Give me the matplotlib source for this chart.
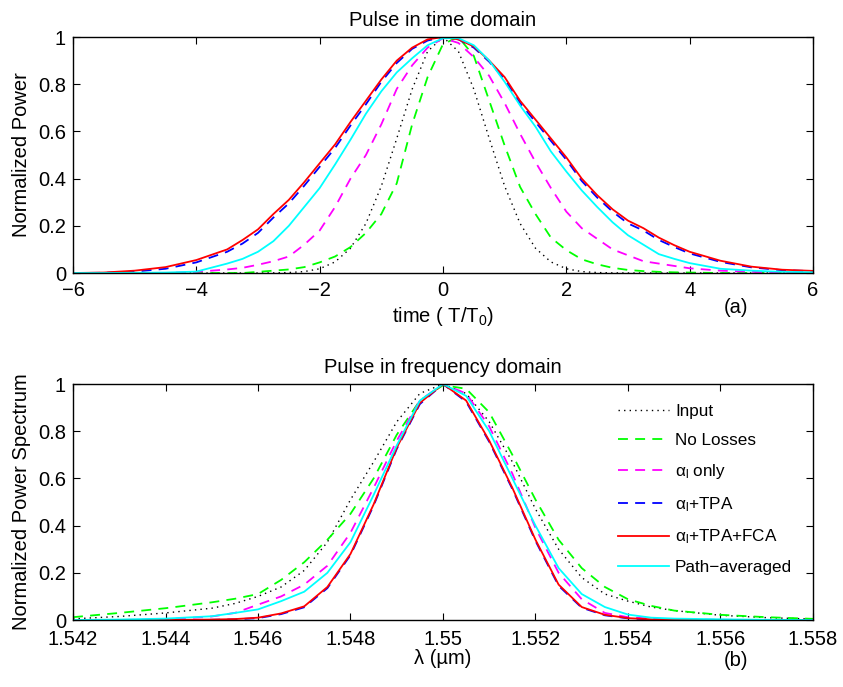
import matplotlib
matplotlib.use("Agg")
import matplotlib.pyplot as plt
from matplotlib.ticker import FixedLocator, FixedFormatter

plt.rcParams['font.family'] = ['Liberation Sans', 'DejaVu Sans']
plt.rcParams['mathtext.fontset'] = 'custom'
plt.rcParams['mathtext.rm'] = 'Liberation Sans'
plt.rcParams['mathtext.it'] = 'Liberation Sans'
plt.rcParams['mathtext.default'] = 'regular'

# ---------------- time domain data ----------------
time_t = [-6, -5.5, -5, -4.5, -4, -3.5, -3.25, -3, -2.75, -2.5, -2.25, -2, -1.75, -1.5, -1.25,
          -1, -0.75, -0.5, -0.25, 0, 0.25, 0.5, 0.75, 1, 1.25, 1.5, 1.75, 2, 2.25, 2.5, 2.75,
          3, 3.25, 3.5, 3.75, 4, 4.5, 5, 5.5, 6]
t_input = [0, 0, 0, 0, 0, 0, 0, 0.0001, 0.0005, 0.002, 0.006, 0.018, 0.047, 0.105, 0.21,
           0.368, 0.57, 0.779, 0.939, 1.0, 0.939, 0.779, 0.57, 0.368, 0.21, 0.105, 0.047, 0.018, 0.006, 0.002, 0.0005,
           0.0001, 0, 0, 0, 0, 0, 0, 0, 0]
t_noloss = [0, 0, 0, 0, 0, 0, 0, 0.005, 0.01, 0.015, 0.025, 0.045, 0.07, 0.11, 0.17,
            0.25, 0.38, 0.63, 0.83, 0.97, 1.0, 0.92, 0.73, 0.54, 0.365, 0.25, 0.15, 0.097, 0.058, 0.037, 0.022,
            0.013, 0.008, 0.005, 0.003, 0.002, 0, 0, 0, 0]
t_alpha = [0, 0, 0, 0, 0.005, 0.015, 0.022, 0.035, 0.05, 0.07, 0.12, 0.18, 0.28, 0.40, 0.50,
           0.63, 0.78, 0.88, 0.955, 0.995, 0.975, 0.915, 0.835, 0.72, 0.59, 0.47, 0.36, 0.26, 0.19, 0.145, 0.10,
           0.075, 0.05, 0.04, 0.03, 0.02, 0.01, 0.005, 0.002, 0]
t_tpa = [0, 0.001, 0.006, 0.018, 0.045, 0.09, 0.125, 0.17, 0.235, 0.295, 0.37, 0.45, 0.53, 0.625, 0.715,
         0.81, 0.89, 0.95, 0.985, 1.0, 0.99, 0.955, 0.895, 0.82, 0.72, 0.64, 0.56, 0.48, 0.39, 0.32, 0.26,
         0.21, 0.18, 0.14, 0.11, 0.083, 0.047, 0.024, 0.012, 0.008]
t_fca = [0, 0.002, 0.01, 0.025, 0.055, 0.10, 0.14, 0.185, 0.25, 0.31, 0.385, 0.465, 0.545, 0.64, 0.73,
         0.82, 0.90, 0.955, 0.99, 1.0, 0.99, 0.96, 0.90, 0.83, 0.73, 0.65, 0.57, 0.49, 0.40, 0.33, 0.27,
         0.222, 0.19, 0.15, 0.118, 0.09, 0.052, 0.027, 0.014, 0.009]
t_path = [0, 0, 0.001, 0.002, 0.006, 0.04, 0.06, 0.09, 0.135, 0.20, 0.28, 0.36, 0.46, 0.565, 0.675,
          0.77, 0.85, 0.91, 0.965, 0.995, 0.995, 0.965, 0.90, 0.81, 0.71, 0.62, 0.515, 0.43, 0.35, 0.28, 0.215,
          0.16, 0.12, 0.08, 0.06, 0.042, 0.018, 0.01, 0.005, 0.003]

# ---------------- frequency domain data ----------------
wl = [1.542, 1.543, 1.544, 1.545, 1.5455, 1.546, 1.5465, 1.547, 1.5475, 1.548, 1.5485, 1.549, 1.5495,
      1.550, 1.5505, 1.551, 1.5515, 1.552, 1.5525, 1.553, 1.5535, 1.554, 1.5545, 1.555, 1.556, 1.557, 1.558]
f_input = [0.005, 0.015, 0.03, 0.05, 0.07, 0.10, 0.14, 0.21, 0.33, 0.51, 0.67, 0.84, 0.96,
           1.0, 0.96, 0.84, 0.67, 0.47, 0.30, 0.18, 0.11, 0.08, 0.055, 0.04, 0.02, 0.01, 0.004]
f_noloss = [0.012, 0.03, 0.05, 0.075, 0.09, 0.11, 0.17, 0.245, 0.34, 0.45, 0.60, 0.785, 0.93,
            0.995, 0.98, 0.88, 0.70, 0.51, 0.34, 0.22, 0.14, 0.088, 0.06, 0.04, 0.022, 0.012, 0.005]
f_alpha = [0, 0, 0.003, 0.015, 0.03, 0.065, 0.10, 0.15, 0.23, 0.37, 0.56, 0.76, 0.93,
           1.0, 0.96, 0.82, 0.62, 0.39, 0.20, 0.088, 0.03, 0.012, 0.006, 0.003, 0.001, 0, 0]
f_tpa = [0, 0, 0, 0.001, 0.003, 0.008, 0.025, 0.054, 0.135, 0.275, 0.485, 0.725, 0.915,
         1.0, 0.925, 0.755, 0.555, 0.335, 0.145, 0.052, 0.02, 0.007, 0.002, 0.001, 0, 0, 0]
f_fca = [0, 0, 0, 0.002, 0.004, 0.01, 0.028, 0.058, 0.14, 0.28, 0.49, 0.73, 0.92,
         1.0, 0.93, 0.76, 0.56, 0.34, 0.15, 0.055, 0.022, 0.008, 0.003, 0.001, 0, 0, 0]
f_path = [0, 0.002, 0.006, 0.016, 0.03, 0.045, 0.08, 0.12, 0.20, 0.33, 0.53, 0.74, 0.93,
          1.0, 0.95, 0.80, 0.60, 0.40, 0.22, 0.11, 0.055, 0.023, 0.01, 0.006, 0.003, 0.001, 0]

labels = ['Input', 'No Losses', r'$\alpha_{\rm l}$ only', r'$\alpha_{\rm l}$+TPA',
          r'$\alpha_{\rm l}$+TPA+FCA', 'Path\u2212averaged']

time_ticks = [-6, -4, -2, 0, 2, 4, 6]
power_ticks = [0, 0.2, 0.4, 0.6, 0.8, 1]
power_ticklabels = ['0', '0.2', '0.4', '0.6', '0.8', '1']
wl_ticks = [1.542, 1.544, 1.546, 1.548, 1.550, 1.552, 1.554, 1.556, 1.558]
wl_ticklabels = ['1.542', '1.544', '1.546', '1.548', '1.55', '1.552', '1.554', '1.556', '1.558']

styles = [
    dict(color='k', linestyle=(0, (1, 3)), lw=1.0),
    dict(color='#00ff00', linestyle=(0, (5.5, 4)), lw=1.3),
    dict(color='#ff00ff', linestyle=(0, (5.5, 4)), lw=1.3),
    dict(color='#0000ff', linestyle=(0, (5.5, 4)), lw=1.3),
    dict(color='#ff0000', linestyle='-', lw=1.3),
    dict(color='#00ffff', linestyle='-', lw=1.3),
]

FS = 14.5
fig = plt.figure(figsize=(8.43, 6.87), dpi=100)
ax1 = fig.add_axes([0.0866, 0.6026, 0.8778, 0.3435])
ax2 = fig.add_axes([0.0866, 0.0975, 0.8778, 0.3435])

tseries = [t_input, t_noloss, t_alpha, t_tpa, t_fca, t_path]
fseries = [f_input, f_noloss, f_alpha, f_tpa, f_fca, f_path]

for ys, st in zip(tseries, styles):
    ax1.plot(time_t, ys, **st)
lines = []
for ys, st, lab in zip(fseries, styles, labels):
    ln, = ax2.plot(wl, ys, label=lab, **st)
    lines.append(ln)

for ax in (ax1, ax2):
    ax.set_ylim(0, 1)
    ax.yaxis.set_major_locator(FixedLocator(power_ticks))
    ax.yaxis.set_major_formatter(FixedFormatter(power_ticklabels))
    ax.tick_params(direction='in', length=5, width=0.8, top=True, right=True,
                   labelsize=FS, pad=5)
    for s in ax.spines.values():
        s.set_linewidth(1.0)
ax1.tick_params(axis='x', pad=6)
ax2.tick_params(axis='x', pad=7)

ax1.set_xlim(-6, 6)
ax1.xaxis.set_major_locator(FixedLocator(time_ticks))
ax1.set_xticklabels(['\u22126', '\u22124', '\u22122', '0', '2', '4', '6'])
ax1.set_title('Pulse in time domain', fontsize=FS, pad=8)
ax1.set_xlabel(r'time ( T/T$_{0}$)', fontsize=FS, labelpad=3)
ax1.set_ylabel('Normalized Power', fontsize=FS, labelpad=5)

ax2.set_xlim(1.542, 1.558)
ax2.xaxis.set_major_locator(FixedLocator(wl_ticks))
ax2.xaxis.set_major_formatter(FixedFormatter(wl_ticklabels))
ax2.set_title('Pulse in frequency domain', fontsize=FS, pad=8)
ax2.set_xlabel('\u03bb (\u00b5m)', fontsize=FS, labelpad=0)
ax2.set_ylabel('Normalized Power Spectrum', fontsize=FS, labelpad=5)

ax2.legend(handles=lines, loc='upper left', bbox_to_anchor=(0.727, 0.945), frameon=False,
           fontsize=12.3, handlelength=3.0, handletextpad=0.35, labelspacing=0.82,
           borderaxespad=0)

fig.text(0.873, 0.553, '(a)', fontsize=FS, ha='center', va='center')
fig.text(0.873, 0.038, '(b)', fontsize=FS, ha='center', va='center')

fig.savefig('out.png', dpi=100)
